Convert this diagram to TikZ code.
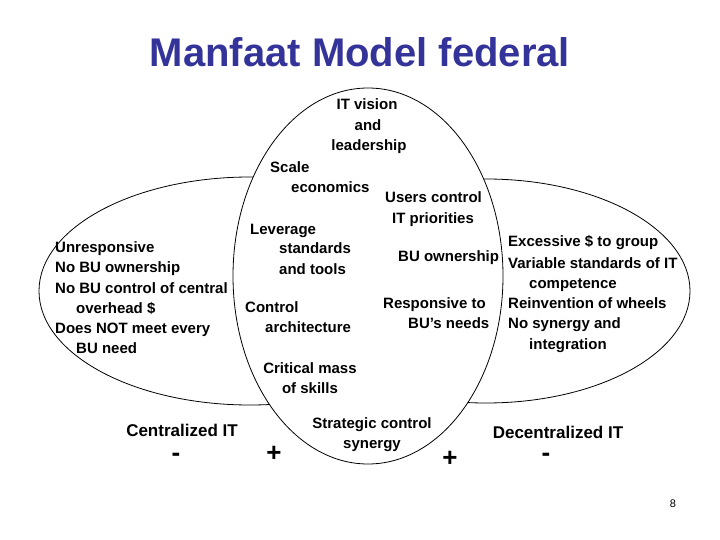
\documentclass[tikz,border=0pt]{standalone}
\usepackage{fontspec}
\setmainfont{Liberation Sans}
\definecolor{titleblue}{RGB}{51,51,153}
\begin{document}
\begin{tikzpicture}[x=1pt,y=-1pt,
  t/.style={anchor=west,inner sep=0pt,text height=11pt,text depth=3pt,font=\bfseries\fontsize{15}{17}\selectfont},
  c/.style={t,anchor=center},
  big/.style={anchor=center,inner sep=0pt,font=\bfseries\fontsize{26}{28}\selectfont},
  ell/.style={draw=black,line width=0.8pt}]
\useasboundingbox (0,0) rectangle (720,540);
\node[anchor=center,inner sep=0pt,text=titleblue,font=\bfseries\fontsize{40}{44}\selectfont] (title) at (360,52) {Manfaat Model federal};
\draw[ell] (250,291) ellipse [x radius=211,y radius=114];
\draw[ell] (486,291) ellipse [x radius=204,y radius=112];
\draw[ell,fill=white] (368,276) ellipse [x radius=135,y radius=188];
% left
\node[t] (l1) at (55,248) {Unresponsive};
\node[t] (l2) at (55,268) {No BU ownership};
\node[t] (l3) at (55,289) {No BU control of central};
\node[t] (l4) at (76,309) {overhead \$};
\node[t] (l5) at (55,329) {Does NOT meet every};
\node[t] (l6) at (76,349) {BU need};
% middle
\node[c] (m1) at (367,106) {IT vision};
\node[c] (m2) at (368,127) {and};
\node[c] (m3) at (369,147) {leadership};
\node[t] (m4) at (270,169) {Scale};
\node[t] (m5) at (291,189) {economics};
\node[t] (m6) at (250,230) {Leverage};
\node[t] (m7) at (279,250) {standards};
\node[t] (m8) at (279,270) {and tools};
\node[t] (m9) at (245,308) {Control};
\node[t] (m10) at (265,328) {architecture};
\node[c] (m11) at (310,369) {Critical mass};
\node[c] (m12) at (310,389) {of skills};
\node[c] (m13) at (372,424) {Strategic control};
\node[c] (m14) at (372,444) {synergy};
\node[t] (m15) at (385,199) {Users control};
\node[t] (m16) at (392,219) {IT priorities};
\node[t] (m17) at (398,257) {BU ownership};
\node[t] (m18) at (383,304) {Responsive to};
\node[t] (m19) at (408,324) {BU's needs};
% right
\node[t] (r1) at (508,243) {Excessive \$ to group};
\node[t] (r2) at (508,264) {Variable standards of IT};
\node[t] (r3) at (529,284) {competence};
\node[t] (r4) at (508,304) {Reinvention of wheels};
\node[t] (r5) at (508,324) {No synergy and};
\node[t] (r6) at (529,345) {integration};
% bottom
\node[c,font=\bfseries\fontsize{17}{19}\selectfont] (ci) at (182,432) {Centralized IT};
\node[c,font=\bfseries\fontsize{17}{19}\selectfont] (di) at (558,434) {Decentralized IT};
\node[big] (s1) at (176,457) {-};
\node[big] (s2) at (274,454) {+};
\node[big] (s3) at (450,459) {+};
\node[big] (s4) at (546,457) {-};
\node[anchor=center,inner sep=0pt,font=\fontsize{11}{13}\selectfont] (pg) at (673,504) {8};
\end{tikzpicture}
\end{document}
